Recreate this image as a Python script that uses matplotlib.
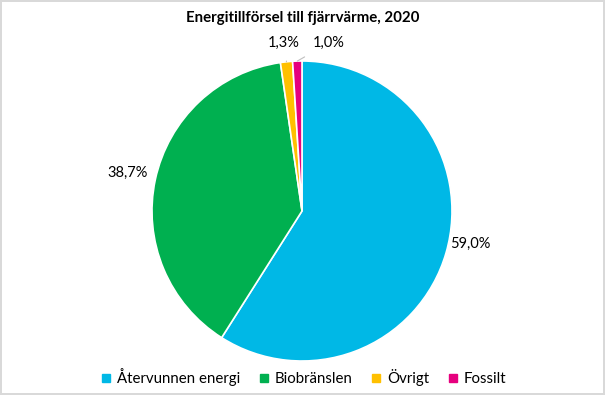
import numpy as np
import matplotlib.pyplot as plt
from matplotlib.lines import Line2D

plt.rcParams['font.family'] = ['Lato', 'DejaVu Sans']

categories = ['Återvunnen energi', 'Biobränslen', 'Övrigt', 'Fossilt']
values = [59.0, 38.7, 1.3, 1.0]
colors = ['#00B8E6', '#00B050', '#FFC000', '#E6007E']
labels = ['59,0%', '38,7%', '1,3%', '1,0%']

fig = plt.figure(figsize=(6.05, 3.95), dpi=100)
fig.patch.set_edgecolor('#D9D9D9')
fig.patch.set_linewidth(1.5)

ax = fig.add_axes([152 / 605, 34 / 395, 300 / 605, 300 / 395])
wedges, _ = ax.pie(values, colors=colors, startangle=90, counterclock=False,
                   wedgeprops=dict(edgecolor='white', linewidth=1.2))
ax.set_xlim(-1, 1)
ax.set_ylim(-1, 1)
ax.set_aspect('equal')

# big slices: labels just outside
yscale = [0.78, 1.22]
for w, lab, ys in zip(wedges[:2], labels[:2], yscale):
    ang = np.deg2rad((w.theta1 + w.theta2) / 2)
    x, y = np.cos(ang), np.sin(ang)
    ha = 'left' if x > 0 else 'right'
    ax.text(1.0 * x + (0.03 if x > 0 else -0.05), ys * y, lab, ha=ha, va='center', fontsize=10.5)

# small slices: labels above with leader lines
offsets = [(-0.12, 1.12), (0.18, 1.12)]
for w, lab, (tx, ty) in zip(wedges[2:], labels[2:], offsets):
    ang = np.deg2rad((w.theta1 + w.theta2) / 2)
    x, y = np.cos(ang), np.sin(ang)
    ax.annotate(lab, xy=(x, y), xytext=(tx, ty), ha='center', va='center', fontsize=10.5,
                arrowprops=dict(arrowstyle='-', color='#BFBFBF', lw=0.8, shrinkA=6, shrinkB=0))

fig.text(0.5, 0.955, 'Energitillförsel till fjärrvärme, 2020', ha='center', va='center',
         fontsize=10.8, fontweight='bold')

handles = [Line2D([], [], marker='s', linestyle='', markersize=6, color=c) for c in colors]
fig.legend(handles, categories, loc='center', bbox_to_anchor=(0.5, 0.045), ncol=4, frameon=False,
           fontsize=10.8, handletextpad=0.2, columnspacing=1.1, handlelength=1.0)

fig.savefig('out.png', dpi=100)
